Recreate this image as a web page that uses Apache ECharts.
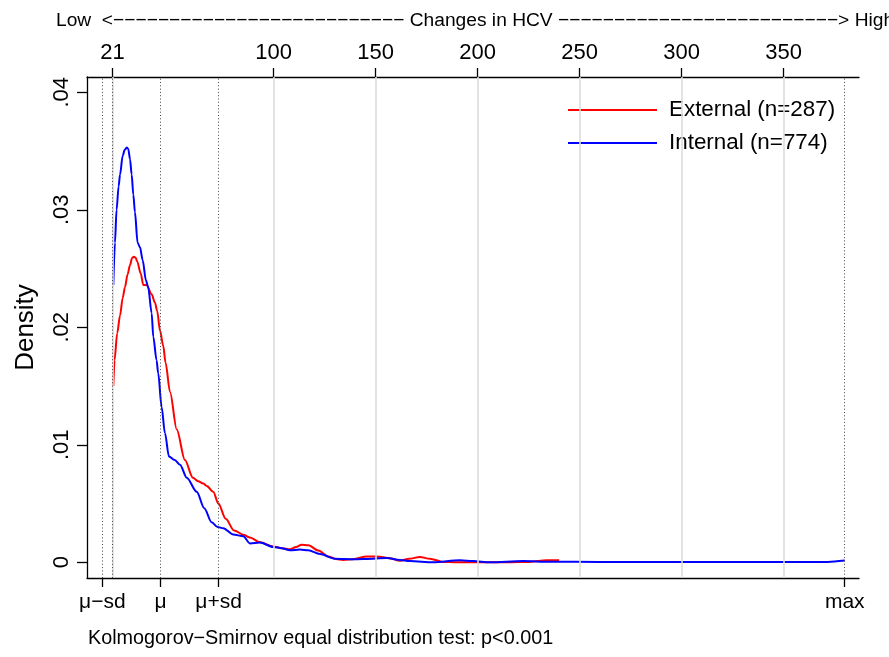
<!DOCTYPE html>
<html>
<head>
<meta charset="utf-8">
<script src="https://cdn.jsdelivr.net/npm/echarts@6/dist/echarts.min.js"></script>
<style>
  html, body { margin: 0; padding: 0; background: #fff; }
  #chart { width: 889px; height: 657px; }
</style>
</head>
<body>
<div id="chart"></div>
<script>
// Kernel density estimates of HCV change, external vs internal
const externalX = [21.4, 22.0, 23.3, 24.7, 26.0, 27.1, 28.4, 29.6, 30.6, 31.5, 32.4, 33.1, 34.8, 36.1, 37.7, 40.2, 41.8, 42.9, 44.3, 45.9, 47.0, 49.2, 52.5, 56.5, 60.4, 63.0, 65.5, 67.2, 70.4, 72.9, 76.5, 80.6, 85.5, 88.4, 93.3, 99.8, 104.0, 108.0, 111.0, 113.7, 117.0, 121.9, 126.8, 130.5, 134.1, 139.0, 145.6, 150.5, 157.0, 161.9, 166.5, 171.7, 176.6, 183.1, 189.7, 199.5, 214.2, 225.6, 233.8, 240.0];
const externalY = [0.0150, 0.0172, 0.0195, 0.0210, 0.0225, 0.0234, 0.0245, 0.0253, 0.0259, 0.0260, 0.0259, 0.0256, 0.0246, 0.0236, 0.0236, 0.0228, 0.0221, 0.0214, 0.0197, 0.0184, 0.0170, 0.0145, 0.0113, 0.0087, 0.0072, 0.0069, 0.0067, 0.0065, 0.0060, 0.0050, 0.0037, 0.0027, 0.00232, 0.0021, 0.0017, 0.00135, 0.0012, 0.0011, 0.0013, 0.0015, 0.00145, 0.0010, 0.0005, 0.00028, 0.0002, 0.00026, 0.0005, 0.0005, 0.00035, 0.00012, 0.0003, 0.00045, 0.0003, 0.00003, 0.0, 0.0, 0.0, 0.00003, 0.00017, 0.00017];

const internalX = [21.4, 22.2, 23.0, 24.0, 24.7, 26.0, 27.0, 28.0, 28.7, 29.6, 30.4, 31.2, 32.0, 33.3, 34.5, 35.8, 37.4, 38.5, 40.2, 41.0, 42.6, 43.4, 45.1, 46.7, 48.7, 51.5, 54.1, 57.4, 62.3, 66.0, 69.6, 72.5, 75.3, 80.2, 85.1, 88.4, 93.3, 99.8, 104.0, 108.0, 112.9, 117.0, 122.7, 130.0, 139.0, 148.8, 155.4, 161.9, 166.8, 178.2, 191.3, 197.8, 206.0, 222.3, 235.0, 260.0, 300.0, 340.0, 371.7, 380.0];
const internalY = [0.0236, 0.0272, 0.0300, 0.0320, 0.0330, 0.0346, 0.0351, 0.0353, 0.0352, 0.0343, 0.0330, 0.0313, 0.0298, 0.0272, 0.0268, 0.0257, 0.0240, 0.0234, 0.0212, 0.0192, 0.0172, 0.0161, 0.0132, 0.0110, 0.0090, 0.0087, 0.0083, 0.0072, 0.0060, 0.0046, 0.0034, 0.0030, 0.0029, 0.00236, 0.00222, 0.0016, 0.00168, 0.0013, 0.0012, 0.00102, 0.00108, 0.00102, 0.0007, 0.0003, 0.00026, 0.0003, 0.00037, 0.0002, 0.0001, 0.0, 0.00017, 0.0001, 0.0, 0.0001, 0.00004, 0.00003, 0.00003, 0.00003, 0.00003, 0.00015];

// Top axis: HCV values
const topTicks = [21, 100, 150, 200, 250, 300, 350];
// Bottom axis: summary statistics of the pooled sample
const statValues = [16, 44.5, 73, 380];
const statLabels = ['μ−sd', 'μ', 'μ+sd', 'max'];
// Dotted reference lines: μ−sd, min, μ, μ+sd, max
const refLines = [16, 21, 44.5, 73, 380];
// Density axis
const yTicks = [0, 0.01, 0.02, 0.03, 0.04];
const yTickLabels = ['0', '.01', '.02', '.03', '.04'];

const seriesNames = ['External (n=287)', 'Internal (n=774)'];

const zip = (xs, ys) => xs.map((x, i) => [x, ys[i]]);
const labelFor = (vals, labels) => v => {
  const i = vals.findIndex(t => Math.abs(t - v) < 1e-9);
  return i >= 0 ? labels[i] : '';
};

const FONT = 'Liberation Sans, Arial, Helvetica, sans-serif';
const chart = echarts.init(document.getElementById('chart'), null, { renderer: 'canvas' });

chart.setOption({
  animation: false,
  backgroundColor: '#ffffff',
  textStyle: { fontFamily: FONT, color: '#000' },
  title: [
    {
      text: 'Low  <−−−−−−−−−−−−−−−−−−−−−−−−−− Changes in HCV −−−−−−−−−−−−−−−−−−−−−−−−−> High',
      left: 51, top: 6,
      textStyle: { fontSize: 19.2, fontWeight: 'normal', fontFamily: FONT, color: '#000' }
    },
    {
      text: 'Kolmogorov−Smirnov equal distribution test: p<0.001',
      left: 83, top: 624,
      textStyle: { fontSize: 19.8, fontWeight: 'normal', fontFamily: FONT, color: '#000' }
    }
  ],
  legend: {
    orient: 'vertical',
    left: 563, top: 94,
    itemWidth: 89, itemHeight: 2,
    itemGap: 11,
    icon: 'rect',
    textStyle: { fontSize: 22.4, fontFamily: FONT, color: '#000', padding: [0, 0, 0, 7] },
    data: seriesNames
  },
  grid: { left: 87, top: 77, width: 772, height: 501, containLabel: false },
  xAxis: [
    {
      type: 'value', position: 'bottom', min: 8.5, max: 387,
      axisLine: { show: true, onZero: false, lineStyle: { color: '#000', width: 1.3 } },
      axisTick: { show: true, length: 9, customValues: statValues, lineStyle: { color: '#000', width: 1.3 } },
      axisLabel: { customValues: statValues, formatter: labelFor(statValues, statLabels), fontSize: 21, color: '#000', margin: 14, fontFamily: FONT },
      splitLine: { show: false }
    },
    {
      type: 'value', position: 'top', min: 8.5, max: 387,
      axisLine: { show: true, onZero: false, lineStyle: { color: '#000', width: 1.3 } },
      axisTick: { show: true, length: 9, customValues: topTicks, lineStyle: { color: '#000', width: 1.3 } },
      axisLabel: { customValues: topTicks, fontSize: 22, color: '#000', margin: 13, fontFamily: FONT },
      splitLine: { show: false }
    }
  ],
  yAxis: {
    type: 'value', min: -0.00134, max: 0.0413,
    name: 'Density', nameLocation: 'middle', nameRotate: 90, nameGap: 48,
    nameTextStyle: { fontSize: 26, color: '#000', fontFamily: FONT },
    axisLine: { show: true, onZero: false, lineStyle: { color: '#000', width: 1.3 } },
    axisTick: { show: true, length: 10, customValues: yTicks, lineStyle: { color: '#000', width: 1.3 } },
    axisLabel: { customValues: yTicks, formatter: labelFor(yTicks, yTickLabels), rotate: 90, fontSize: 22, color: '#000', margin: 14, fontFamily: FONT },
    splitLine: { show: false }
  },
  series: [
    {
      // light grid at the HCV ticks and dotted statistic markers
      type: 'line', data: [], z: 1, silent: true,
      markLine: {
        silent: true, symbol: 'none', label: { show: false }, animation: false,
        data: [
          ...topTicks.map(v => ({ xAxis: v, lineStyle: { color: '#dcdcdc', width: 1.6, type: 'solid' } })),
          ...refLines.map(v => ({ xAxis: v, lineStyle: { color: '#444', width: 1, type: [1, 2.3] } }))
        ]
      }
    },
    {
      name: seriesNames[0], type: 'line', data: zip(externalX, externalY),
      showSymbol: false, smooth: 0.3, smoothMonotone: 'x', z: 3,
      lineStyle: { color: '#ff0000', width: 2 }, itemStyle: { color: '#ff0000' }
    },
    {
      name: seriesNames[1], type: 'line', data: zip(internalX, internalY),
      showSymbol: false, smooth: 0.3, smoothMonotone: 'x', z: 4,
      lineStyle: { color: '#0000ff', width: 2 }, itemStyle: { color: '#0000ff' }
    }
  ]
});
</script>
</body>
</html>
